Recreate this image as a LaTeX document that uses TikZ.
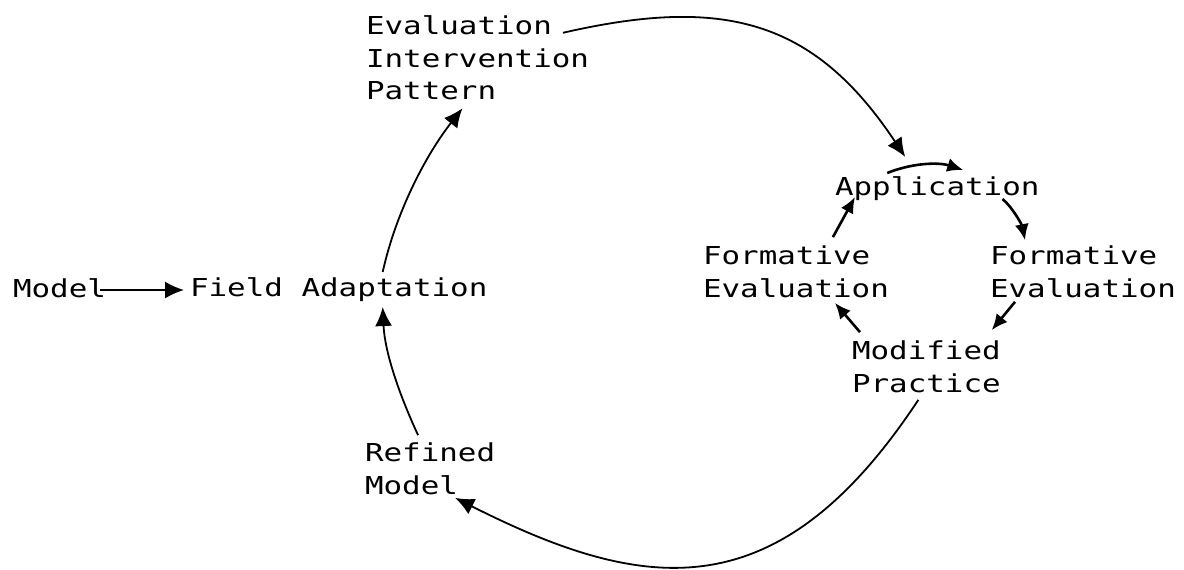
\documentclass[tikz,border=0pt]{standalone}
\usepackage{fontspec}
\newfontfamily\plotfont[FakeStretch=1.25]{DejaVu Sans Mono}
\usetikzlibrary{arrows.meta,calc}
\begin{document}
\begin{tikzpicture}[x=0.5pt,y=-0.5pt,
  lbl/.style={anchor=west,inner sep=0pt,outer sep=0pt,align=left,
    font=\plotfont\fontsize{12.35}{16.3}\selectfont},
  arr/.style={line width=0.9pt,-{Latex[length=9.5pt,width=8.5pt]}},
  sarr/.style={line width=1.3pt,-{Latex[length=8pt,width=7pt]}}]
\useasboundingbox (0,0) rectangle (1184,569);
% labels
\node[lbl] (model) at (13,288) {Model};
\node[lbl] (field) at (190,290) {Field Adaptation};
\node[lbl] (eip) at (366,58) {Evaluation\\Intervention\\Pattern};
\node[lbl] (app) at (835,189) {Application};
\node[lbl] (fl) at (703,272) {Formative\\Evaluation};
\node[lbl] (fr) at (990,272) {Formative\\Evaluation};
\node[lbl] (mp) at (852,367) {Modified\\Practice};
\node[lbl] (rm) at (365,469) {Refined\\Model};
% outer loop
\draw[arr] ($(model.east)+(-6,2)$) -- ($(field.west)+(-6,0)$);
\draw[arr] ($(field.north)+(44,-6)$) .. controls +(13,-59) and +(-37,47) .. ($(eip.south)+(-15,8)$);
\draw[arr] ($(eip.north west)+(197,17)$) .. controls +(161,-37) and +(-91,-137) .. ($(app.north)+(-32,-20)$);
\draw[arr] ($(mp.south)+(-8,7)$) .. controls +(-140,212) and +(190,96) .. ($(rm.south east)+(-40,3)$);
\draw[arr] ($(rm.north)+(-12,-8)$) .. controls +(-19,-41) and +(2,45) .. ($(field.south)+(44,5)$);
% inner loop
\draw[sarr] ($(app.north)+(-50,-4)$) .. controls +(25,-10) and +(-25,-8) .. ($(app.north)+(26,-7)$);
\draw[sarr] ($(app.south east)+(-37,-2)$) .. controls +(10,8) and +(-3,-15) .. ($(fr.north west)+(35,-6)$);
\draw[sarr] ($(fr.south west)+(25,4)$) -- ($(mp.north east)+(-9,-11)$);
\draw[sarr] ($(mp.north west)+(8,-9)$) -- ($(fl.south east)+(-54,5)$);
\draw[sarr] ($(fl.north east)+(-56,-9)$) -- ($(app.south west)+(20,-4)$);
\end{tikzpicture}
\end{document}
